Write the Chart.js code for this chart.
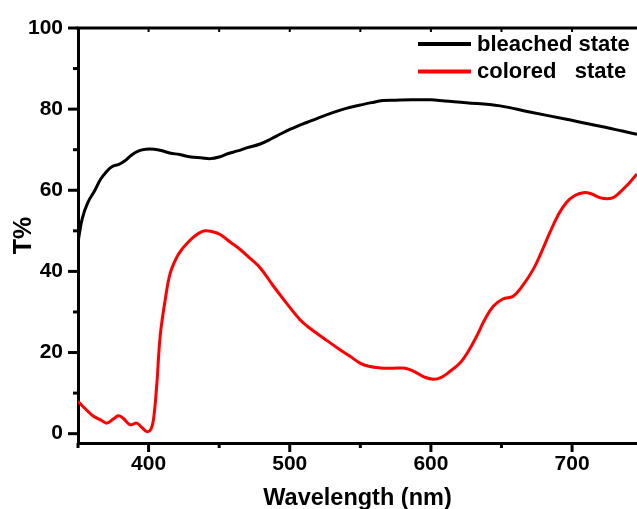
<!DOCTYPE html>
<html>
<head>
<meta charset="utf-8">
<script src="https://cdn.jsdelivr.net/npm/chart.js@4/dist/chart.umd.min.js"></script>
<style>
html,body{margin:0;padding:0;background:#fff;}
#wrap{width:637px;height:509px;position:relative;}
</style>
</head>
<body>
<div id="wrap"><canvas id="c" width="637" height="509"></canvas></div>
<script>
// ---- data ----
const bleachedWl = [350,353,357,362,366,370,374,379,383,388,393,398,404,409,415,422,430,437,444,450,456,463,470,479,487,493,500,506,512,520,531,540,550,558,566,575,587,600,610,625,649,670,696,720,746];
const bleachedT  = [47.2,53,57,60,62.7,64.5,65.8,66.4,67.2,68.7,69.7,70.1,70.1,69.8,69.2,68.8,68.2,68,67.8,68.2,69,69.7,70.5,71.4,72.7,73.8,75,75.9,76.7,77.8,79.2,80.2,81,81.6,82.1,82.2,82.3,82.3,82,81.6,80.8,79.3,77.5,75.8,73.8];

const coloredWl = [350,355,361,366,370.5,375,378.7,382,387,391.7,395,398.8,401.5,403.5,405.9,408.2,411.8,415.3,420,424,428,432,436,440,445,450.7,458,464.9,472,479,488.4,497,507.3,515,523.8,535.6,543,549.8,556,564,572,580.4,585,589.9,595,601.7,607,613,620.6,626,632.4,638,644.2,651,658.3,665,672.5,678,684.3,690,696,702,707.9,713,719.7,725,729,733,736,741,746];
const coloredT  = [8.0,6.2,4.3,3.4,2.6,3.6,4.4,3.8,2.2,2.6,1.6,0.5,1.0,3.5,12.5,24,33,39.5,43.5,45.6,47.2,48.5,49.5,50,49.8,49.1,47.2,45.4,43.2,40.9,36.4,32.5,28.1,25.8,23.6,20.7,19,17.4,16.6,16.2,16.1,16.2,15.8,15,14,13.4,13.8,15.2,17.4,20,24,28,31.4,33.2,33.9,36.5,40.5,44.5,49.6,53.8,57,58.7,59.4,59.2,58.2,57.9,58.2,59.2,60.2,62,64];

const seriesLabels = ['bleached state', 'colored   state'];
const seriesColors = ['#000000', '#ff0000'];

const xTicks = [400,500,600,700];
const xMinor = [350,450,550,650];
const yTicks = [0,20,40,60,80,100];
const yMinor = [10,30,50,70,90];
const xRange = [350, 746];
const yRange = [-2.3, 100];

const toXY = (xs, ys) => xs.map((x, i) => ({x, y: ys[i]}));

const tickPlugin = {
  id: 'originTicks',
  afterDraw(chart) {
    const ctx = chart.ctx;
    const xs = chart.scales.x, ys = chart.scales.y;
    const a = chart.chartArea;
    ctx.save();
    ctx.strokeStyle = '#000';
    ctx.lineCap = 'butt';
    // top frame line
    ctx.lineWidth = 3;
    ctx.beginPath();
    ctx.moveTo(a.left - 1.5, a.top);
    ctx.lineTo(a.right, a.top);
    ctx.stroke();
    // bottom ticks
    ctx.lineWidth = 3;
    const drawX = (vals, len) => vals.forEach(v => {
      const px = xs.getPixelForValue(v);
      ctx.beginPath(); ctx.moveTo(px, a.bottom); ctx.lineTo(px, a.bottom + len); ctx.stroke();
    });
    drawX(xTicks, 9);
    drawX(xMinor, 5);
    // top inward ticks
    ctx.lineWidth = 2;
    [...xTicks, ...xMinor].forEach(v => {
      const px = xs.getPixelForValue(v);
      if (px <= a.left + 2) return;
      ctx.beginPath(); ctx.moveTo(px, a.top); ctx.lineTo(px, a.top + 4); ctx.stroke();
    });
    // left ticks
    ctx.lineWidth = 3;
    const drawY = (vals, len) => vals.forEach(v => {
      const py = ys.getPixelForValue(v);
      ctx.beginPath(); ctx.moveTo(a.left, py); ctx.lineTo(a.left - len, py); ctx.stroke();
    });
    drawY(yTicks, 10);
    drawY(yMinor, 5);
    // legend
    const lx0 = 418, lx1 = 471, tx = 477;
    const rows = [44, 71.5];
    ctx.font = 'bold 22px "Liberation Sans", Arial, sans-serif';
    ctx.textBaseline = 'middle';
    ctx.textAlign = 'left';
    chart.data.datasets.forEach((ds, i) => {
      ctx.strokeStyle = ds.borderColor;
      ctx.lineWidth = 4;
      ctx.beginPath(); ctx.moveTo(lx0, rows[i]); ctx.lineTo(lx1, rows[i]); ctx.stroke();
      ctx.fillStyle = '#000';
      ctx.fillText(ds.label, tx, rows[i] + 0.5);
    });
    ctx.restore();
  }
};

new Chart(document.getElementById('c'), {
  type: 'line',
  data: {
    datasets: [
      { label: seriesLabels[0], data: toXY(bleachedWl, bleachedT), borderColor: seriesColors[0], borderWidth: 3, pointRadius: 0, tension: 0.4, fill: false },
      { label: seriesLabels[1], data: toXY(coloredWl, coloredT), borderColor: seriesColors[1], borderWidth: 3, pointRadius: 0, tension: 0.4, fill: false }
    ]
  },
  options: {
    responsive: false,
    animation: false,
    layout: { padding: { top: 28, right: 0, left: 0, bottom: 0 } },
    plugins: { legend: { display: false }, tooltip: { enabled: false } },
    scales: {
      x: {
        type: 'linear',
        min: xRange[0], max: xRange[1],
        afterBuildTicks: s => { s.ticks = xTicks.map(v => ({value: v})); },
        afterFit: s => { s.height = 66; },
        grid: { display: true, drawOnChartArea: false, drawTicks: false },
        border: { display: true, color: '#000', width: 3 },
        ticks: { color: '#000', padding: 9, maxRotation: 0, font: { family: '"Liberation Sans", Arial, sans-serif', size: 21, weight: 'bold' } },
        title: { display: true, text: 'Wavelength (nm)', color: '#000', padding: { top: 0, bottom: -4 }, font: { family: '"Liberation Sans", Arial, sans-serif', size: 23.5, weight: 'bold' } }
      },
      y: {
        type: 'linear',
        min: yRange[0], max: yRange[1],
        afterBuildTicks: s => { s.ticks = yTicks.map(v => ({value: v})); },
        afterFit: s => { s.width = 78; },
        grid: { display: true, drawOnChartArea: false, drawTicks: false },
        border: { display: true, color: '#000', width: 3 },
        ticks: { color: '#000', padding: 15, font: { family: '"Liberation Sans", Arial, sans-serif', size: 21, weight: 'bold' } },
        title: { display: true, text: 'T%', color: '#000', padding: { top: 9, bottom: 0 }, font: { family: '"Liberation Sans", Arial, sans-serif', size: 25, weight: 'bold' } }
      }
    }
  },
  plugins: [tickPlugin]
});
</script>
</body>
</html>
